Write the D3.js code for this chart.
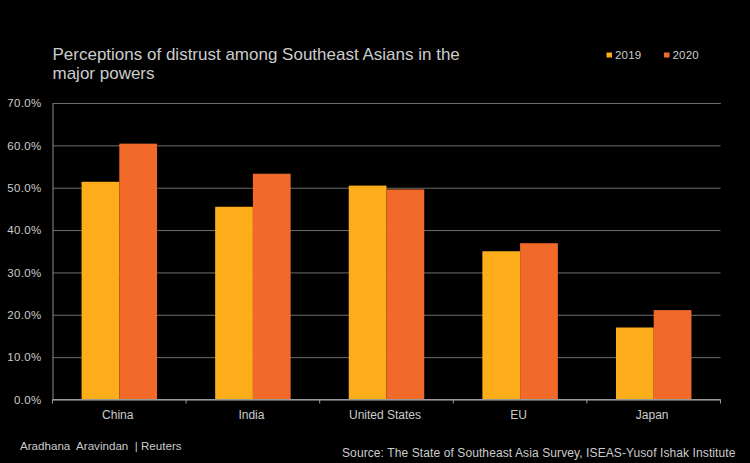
<!DOCTYPE html>
<html>
<head>
<meta charset="utf-8">
<script src="https://cdn.jsdelivr.net/npm/d3@7"></script>
<style>
  html, body { margin: 0; padding: 0; background: #000; }
  svg { display: block; }
  text { font-family: "Liberation Sans", Arial, sans-serif; fill: #cccccc; }
</style>
</head>
<body>
<div id="chart"></div>
<script>
var categories = ["China", "India", "United States", "EU", "Japan"];
var values2019 = [51.4, 45.5, 50.5, 35.0, 17.0];
var values2020 = [60.4, 53.3, 49.6, 36.9, 21.1];
var seriesNames = ["2019", "2020"];
var seriesColors = ["#fdac1a", "#f26a2a"];
var yTicks = [0, 10, 20, 30, 40, 50, 60, 70];
var titleLines = ["Perceptions of distrust among Southeast Asians in the", "major powers"];

var width = 750, height = 463;
var left = 52.5, right = 720.5, top_ = 103, bottom = 399.5;

var svg = d3.select("#chart").append("svg")
  .attr("width", width)
  .attr("height", height);

svg.append("rect").attr("width", width).attr("height", height).attr("fill", "#000");

var x = d3.scaleBand().domain(categories).range([left, right])
  .paddingInner(0.435).paddingOuter(0.2175);
var x1 = d3.scaleBand().domain(seriesNames).range([0, x.bandwidth()]);
var y = d3.scaleLinear().domain([0, 70]).range([bottom, top_]);

// gridlines and value labels
var yAxis = d3.axisLeft(y)
  .tickValues(yTicks)
  .tickSize(left - right)
  .tickPadding(10)
  .tickFormat(function(d) { return d.toFixed(1) + "%"; });

var yg = svg.append("g").attr("transform", "translate(" + left + ",0)").call(yAxis);
yg.select(".domain").attr("stroke", "#8c8c8c");
yg.selectAll(".tick line").attr("stroke", "#6e6e6e").attr("stroke-width", 1);
yg.selectAll(".tick text")
  .attr("x", -11)
  .attr("font-size", 11.5)
  .style("font-family", '"Liberation Sans", Arial, sans-serif')
  .attr("letter-spacing", 0.35)
  .attr("fill", "#cccccc");

// bars
[values2019, values2020].forEach(function(vals, s) {
  svg.append("g").selectAll("rect")
    .data(vals)
    .enter().append("rect")
    .attr("x", function(d, i) { return x(categories[i]) + x1(seriesNames[s]); })
    .attr("y", function(d) { return y(d); })
    .attr("width", x1.bandwidth())
    .attr("height", function(d) { return bottom - y(d); })
    .attr("fill", seriesColors[s]);
});

// category axis, ticks fall on the band edges
var xg = svg.append("g").attr("transform", "translate(0," + bottom + ")");
xg.append("line").attr("x1", left).attr("x2", right).attr("stroke", "#9a9a9a");
var edges = categories.map(function(c) { return x(c) - x.step() * x.paddingInner() / 2; }).concat([right]);
xg.selectAll(".edge").data(edges).enter().append("line")
  .attr("class", "edge")
  .attr("x1", function(d) { return d; })
  .attr("x2", function(d) { return d; })
  .attr("y1", 0).attr("y2", 4)
  .attr("stroke", "#9a9a9a");
xg.selectAll(".cat").data(categories).enter().append("text")
  .attr("class", "cat")
  .attr("x", function(d) { return x(d) + x.bandwidth() / 2 - 1.5; })
  .attr("y", 19)
  .attr("text-anchor", "middle")
  .attr("font-size", 12)
  .text(function(d) { return d; });

// title
svg.selectAll(".title").data(titleLines).enter().append("text")
  .attr("class", "title")
  .attr("x", 52.5)
  .attr("y", function(d, i) { return 60 + i * 19; })
  .attr("font-size", 17)
  .text(function(d) { return d; });

// legend
var legendX = [606.5, 664];
seriesNames.forEach(function(n, i) {
  svg.append("rect")
    .attr("x", legendX[i]).attr("y", 52.5)
    .attr("width", 5.5).attr("height", 5)
    .attr("fill", seriesColors[i]);
  svg.append("text")
    .attr("x", legendX[i] + 8.5).attr("y", 59)
    .attr("font-size", 11.5)
    .attr("letter-spacing", 0.2)
    .text(n);
});

// credits
svg.append("text").attr("x", 20).attr("y", 450)
  .attr("font-size", 11.6)
  .style("white-space", "pre")
  .text("Aradhana  Aravindan  | Reuters");
svg.append("text").attr("x", 342).attr("y", 457)
  .attr("font-size", 12)
  .attr("letter-spacing", 0.1)
  .text("Source: The State of Southeast Asia Survey, ISEAS-Yusof Ishak Institute");
</script>
</body>
</html>
